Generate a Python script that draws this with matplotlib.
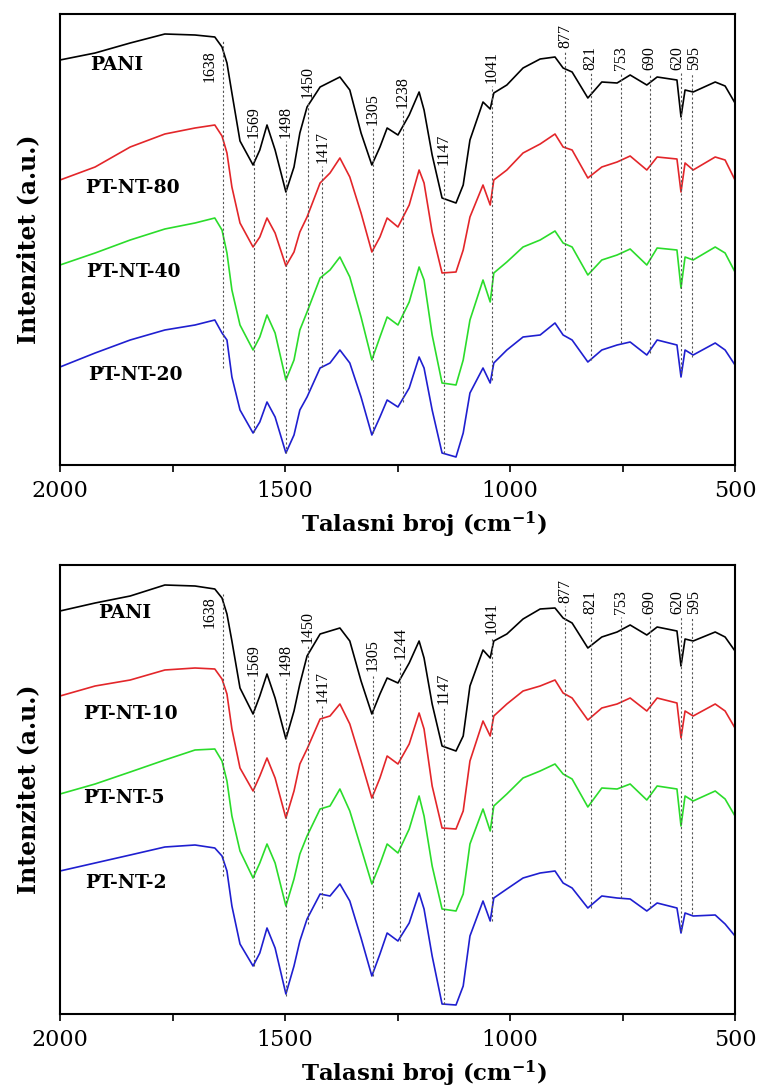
import numpy as np
import matplotlib
matplotlib.use('Agg')
import matplotlib.pyplot as plt

plt.rcParams['font.family'] = 'DejaVu Serif'
plt.rcParams['mathtext.fontset'] = 'dejavuserif'

# wavenumber grid (cm-1) shared by all spectra
wn = [2000, 1922, 1844, 1767, 1700, 1656, 1640, 1629, 1618, 1600,
      1571, 1556, 1540, 1522, 1498, 1480, 1467, 1451, 1422, 1400,
      1378, 1356, 1331, 1307, 1289, 1273, 1249, 1224, 1202, 1191,
      1173, 1151, 1120, 1104, 1089, 1060, 1044, 1036, 1007, 971,
      933, 900, 882, 862, 827, 796, 762, 733, 696, 673,
      629, 620, 611, 593, 544, 522, 500]

# ---- top panel (a.u., already offset) ----
pani_a = [405, 412, 422, 431, 430, 428, 418, 402, 372, 324,
          300, 315, 340, 315, 273, 298, 332, 358, 378, 383,
          388, 375, 332, 300, 318, 337, 330, 350, 373, 355,
          310, 267, 262, 280, 325, 363, 356, 372, 380, 397,
          406, 408, 397, 393, 367, 383, 382, 390, 380, 388,
          385, 348, 375, 373, 383, 379, 362]
ptnt80 = [285, 298, 318, 331, 337, 340, 329, 312, 278, 242,
          218, 228, 247, 232, 199, 213, 233, 248, 282, 292,
          307, 288, 252, 213, 228, 247, 238, 260, 295, 282,
          233, 192, 193, 215, 248, 280, 260, 285, 295, 312,
          321, 331, 318, 315, 287, 298, 303, 309, 295, 308,
          306, 273, 302, 295, 308, 305, 285]
ptnt40 = [200, 212, 225, 236, 242, 247, 235, 212, 175, 140,
          115, 128, 150, 132, 85, 105, 135, 153, 187, 195,
          208, 188, 148, 105, 128, 148, 140, 163, 198, 185,
          130, 82, 80, 105, 145, 185, 163, 192, 203, 218,
          225, 234, 222, 218, 190, 205, 210, 216, 200, 217,
          215, 177, 208, 205, 218, 212, 193]
ptnt20 = [98, 112, 125, 135, 140, 145, 132, 125, 88, 55,
          32, 43, 63, 48, 12, 30, 55, 68, 97, 102,
          115, 102, 68, 30, 48, 65, 58, 77, 108, 97,
          55, 12, 8, 32, 72, 97, 82, 102, 115, 128,
          130, 142, 130, 125, 103, 115, 120, 123, 110, 125,
          120, 88, 115, 110, 122, 115, 100]

# ---- bottom panel ----
pani_b = [403, 411, 418, 429, 428, 425, 416, 400, 373, 326,
          300, 318, 340, 316, 275, 303, 330, 358, 380, 383,
          386, 373, 333, 300, 320, 336, 331, 351, 373, 356,
          310, 268, 263, 278, 328, 364, 356, 373, 380, 395,
          405, 406, 396, 391, 366, 377, 382, 389, 379, 387,
          383, 348, 375, 373, 382, 377, 363]
ptnt10 = [318, 328, 334, 344, 346, 345, 335, 320, 285, 246,
          223, 238, 256, 236, 196, 223, 250, 265, 295, 298,
          310, 290, 253, 216, 236, 258, 250, 270, 301, 285,
          228, 186, 185, 203, 253, 293, 278, 298, 310, 323,
          328, 334, 321, 316, 294, 306, 310, 316, 303, 316,
          311, 276, 303, 298, 310, 303, 286]
ptnt5 = [220, 230, 242, 254, 264, 265, 253, 233, 198, 163,
         136, 151, 170, 151, 108, 135, 160, 178, 205, 208,
         225, 203, 166, 130, 150, 170, 161, 185, 218, 198,
         148, 105, 103, 120, 170, 205, 183, 208, 220, 236,
         243, 250, 240, 235, 207, 226, 225, 230, 214, 228,
         225, 188, 218, 213, 223, 215, 198]
ptnt2 = [143, 151, 159, 167, 169, 166, 158, 143, 108, 70,
         48, 61, 86, 66, 20, 48, 73, 95, 120, 118,
         130, 113, 76, 38, 60, 81, 73, 91, 121, 105,
         58, 10, 9, 28, 78, 113, 93, 116, 125, 136,
         141, 143, 131, 126, 106, 118, 116, 115, 103, 111,
         106, 81, 101, 98, 99, 90, 78]

peaks_top = [1638, 1569, 1498, 1450, 1417, 1305, 1238, 1147, 1041, 877, 821, 753, 690, 620, 595]
peaks_bot = [1638, 1569, 1498, 1450, 1417, 1305, 1244, 1147, 1041, 877, 821, 753, 690, 620, 595]

# label base height / dashed line lower end for each peak
lab_top = [383, 327, 327, 367, 302, 340, 357, 300, 382, 417, 395, 395, 395, 395, 395]
end_top = [97, 33, 12, 75, 98, 32, 63, 12, 85, 135, 105, 122, 112, 92, 108]
lab_bot = [386, 338, 338, 371, 311, 343, 355, 310, 380, 411, 400, 400, 400, 400, 400]
end_bot = [138, 48, 18, 90, 106, 38, 73, 10, 93, 136, 106, 116, 106, 83, 100]

# small horizontal nudges of some peak labels (cm-1)
label_shift = {1638: 30, 620: 9, 595: -5}

colors = ['black', '#e3262a', '#2bdc2b', '#1f1fd0']

panels = [
    dict(series=[pani_a, ptnt80, ptnt40, ptnt20],
         names=['PANI', 'PT-NT-80', 'PT-NT-40', 'PT-NT-20'],
         name_pos=[(1873, 400), (1840, 277), (1836, 193), (1833, 90)],
         peaks=peaks_top, lab=lab_top, end=end_top, top1638=425,
         rect=[60/758, 1-465/1091, 675/758, 451/1091], ymax=451),
    dict(series=[pani_b, ptnt10, ptnt5, ptnt2],
         names=['PANI', 'PT-NT-10', 'PT-NT-5', 'PT-NT-2'],
         name_pos=[(1856, 401), (1844, 300), (1858, 216), (1853, 131)],
         peaks=peaks_bot, lab=lab_bot, end=end_bot, top1638=420,
         rect=[60/758, 1-1014/1091, 675/758, 449/1091], ymax=449),
]

fig = plt.figure(figsize=(7.58, 10.91), dpi=100)

for p in panels:
    ax = fig.add_axes(p['rect'])
    for y, c in zip(p['series'], colors):
        ax.plot(wn, y, color=c, lw=1.2)
    for (x, y), name in zip(p['name_pos'], p['names']):
        ax.text(x, y, name, fontsize=13.5, fontweight='bold', ha='center', va='center')
    for w, lb, le in zip(p['peaks'], p['lab'], p['end']):
        if w == 1638:
            ax.vlines(w, le, p['top1638'], colors='#555555', lw=0.8, linestyles=(0, (2, 2)))
        else:
            ax.vlines(w, le, lb - 3, colors='#555555', lw=0.8, linestyles=(0, (2, 2)))
        tx = w + label_shift.get(w, 0)
        ax.text(tx, lb, str(w), rotation=90, ha='center', va='bottom', fontsize=11.5,
                family='Liberation Serif')
    ax.set_xlim(2000, 500)
    ax.set_ylim(0, p['ymax'])
    ax.set_xticks([2000, 1500, 1000, 500])
    ax.set_xticks([1750, 1250, 750], minor=True)
    ax.tick_params(axis='x', which='both', direction='out', length=5, width=1.2,
                   labelsize=16, pad=6)
    ax.set_yticks([])
    for s in ax.spines.values():
        s.set_linewidth(1.5)
    ax.set_xlabel(r'Talasni broj (cm$^{\mathbf{-1}}$)', fontsize=16.5, fontweight='bold',
                  labelpad=4)
    ax.xaxis.set_label_coords(0.54, -0.1)
    ax.set_ylabel('Intenzitet (a.u.)', fontsize=17, fontweight='bold', labelpad=14)

fig.savefig('out.png', dpi=100)
